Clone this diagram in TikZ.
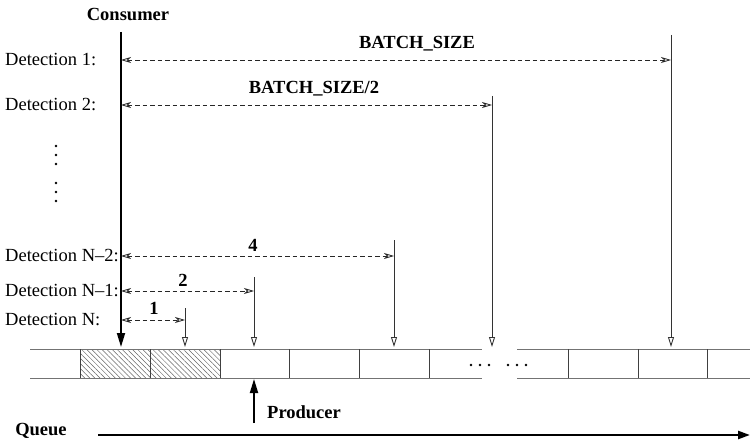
\documentclass[tikz,border=0pt]{standalone}
\usepackage{fontspec}
\setmainfont{Liberation Serif}
\usetikzlibrary{arrows.meta,patterns.meta}
\begin{document}
\begin{tikzpicture}[x=1pt,y=-1pt,
  lab/.style={font=\fontsize{18.5}{22}\selectfont, inner sep=0pt},
  blab/.style={font=\fontsize{18.5}{22}\selectfont\bfseries, inner sep=0pt},
  dimline/.style={dash pattern=on 4.5pt off 3pt, line width=0.8pt, black!85,
    {Stealth[open,length=10pt,width=6pt,inset=3pt,line width=0.8pt]}-{Stealth[open,length=10pt,width=6pt,inset=3pt,line width=0.8pt]}},
  marker/.style={line width=1pt, black!80, -{Triangle[open,length=10pt,width=6pt,line width=0.9pt]}},
  qline/.style={line width=0.9pt, black!55},
  qdiv/.style={line width=1pt, black!75},
  hatch/.style={pattern={Lines[angle=-45,distance=3.6pt,line width=0.5pt]}, pattern color=black!60},
  dot/.style={circle, fill=black, inner sep=0pt, minimum size=2.8pt}
]
\useasboundingbox (0,0) rectangle (750,441);

% queue cells
\fill[hatch] (80,349) rectangle (220,378);
\draw[qline] (30,349) -- (482,349) (517,349) -- (750,349);
\draw[qline] (30,378) -- (482,378) (517,378) -- (750,378);
\foreach \x in {80,150,220,289,359,429,568,638,707}
  \draw[qdiv] (\x,349) -- (\x,378);
\foreach \x in {471,480,489,508,517,526}
  \node[dot] at (\x,365) {};

% consumer
\node[blab] (cons) at (128,14) {Consumer};
\coordinate (ctop) at (121,32);
\coordinate (cbot) at (121,347);
\draw[line width=1.8pt, -{Triangle[length=14pt,width=8pt]}] (ctop) -- (cbot);

% detection labels
\node[lab, anchor=west] (d1) at (5,60) {Detection 1:};
\node[lab, anchor=west] (d2) at (5,105) {Detection 2:};
\node[lab, anchor=west] (dn2) at (5,256) {Detection N–2:};
\node[lab, anchor=west] (dn1) at (5,291) {Detection N–1:};
\node[lab, anchor=west] (dn) at (5,320) {Detection N:};

% vertical dots
\foreach \y in {146,155,164,183,192,201}
  \node[dot] at (56,\y) {};

% markers
\coordinate (v1t) at (671,35);  \coordinate (v1b) at (671,347);
\coordinate (v2t) at (492,96);  \coordinate (v2b) at (492,347);
\coordinate (v3t) at (394,240); \coordinate (v3b) at (394,347);
\coordinate (v4t) at (254,277); \coordinate (v4b) at (254,347);
\coordinate (v5t) at (185,308); \coordinate (v5b) at (185,347);
\foreach \i in {1,...,5} \draw[marker] (v\i t) -- (v\i b);

% dimension arrows
\coordinate (a1l) at (121,60);  \coordinate (a1r) at (671,60);
\coordinate (a2l) at (121,105); \coordinate (a2r) at (492,105);
\coordinate (a3l) at (121,256); \coordinate (a3r) at (394,256);
\coordinate (a4l) at (121,291); \coordinate (a4r) at (254,291);
\coordinate (a5l) at (121,320); \coordinate (a5r) at (185,320);
\foreach \i in {1,...,5} \draw[dimline] (a\i l) -- (a\i r);

\node[blab] (bs) at (417,44) {BATCH\_SIZE};
\node[blab] (bs2) at (314,89) {BATCH\_SIZE/2};
\node[blab] (l4) at (253,245) {4};
\node[blab] (l2) at (183,280) {2};
\node[blab] (l1) at (154,308) {1};

% producer
\coordinate (pbot) at (254,423);
\coordinate (ptop) at (254,379);
\draw[line width=1.8pt, -{Triangle[length=14pt,width=8pt]}] (pbot) -- (ptop);
\node[blab, anchor=west] (prod) at (267,412) {Producer};

% queue axis
\node[blab] (queue) at (41,431) {Queue};
\coordinate (qs) at (98,435);
\coordinate (qe) at (750,435);
\draw[line width=2.4pt, -{Triangle[length=12pt,width=8pt]}] (qs) -- (qe);
\end{tikzpicture}
\end{document}
